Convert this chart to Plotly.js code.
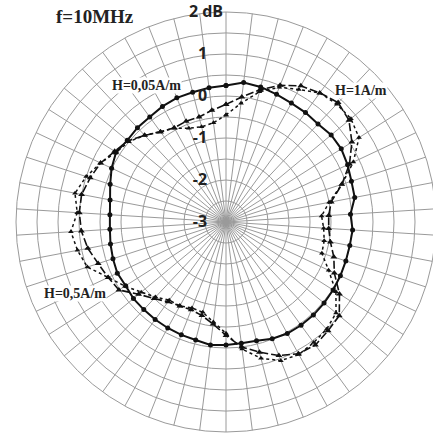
<!DOCTYPE html>
<html>
<head>
<meta charset="utf-8">
<script src="https://cdn.plot.ly/plotly-3.0.1.min.js"></script>
<style>html,body{margin:0;padding:0;background:#fff;overflow:hidden;}#chart{width:436px;height:434px;}</style>
</head>
<body>
<div id="chart"></div>
<script>
// angles (degrees, clockwise from top), 50 measurement directions
var angles = [0,7.2,14.4,21.6,28.8,36,43.2,50.4,57.6,64.8,72,79.2,86.4,93.6,100.8,108,115.2,122.4,129.6,136.8,
  144,151.2,158.4,165.6,172.8,180,187.2,194.4,201.6,208.8,216,223.2,230.4,237.6,244.8,252,259.2,266.4,273.6,280.8,
  288,295.2,302.4,309.6,316.8,324,331.2,338.4,345.6,352.8];

// H = 0,05 A/m (solid, circles)
var h005 = [0.25,0.35,0.32,0.27,0.23,0.22,0.2,0.25,0.25,0.2,0.14,0.12,-0.03,0.02,0.0,0.0,0.01,0.02,0.03,0.04,
  0.04,0.03,-0.01,-0.08,-0.09,-0.07,-0.05,-0.1,-0.11,-0.12,-0.13,-0.14,-0.14,-0.17,-0.14,-0.17,-0.2,-0.23,-0.23,-0.19,
  -0.1,0.01,0.1,0.05,0.08,0.09,0.14,0.18,0.19,0.22];

// H = 1 A/m (long dash, triangles)
var h1 = [-0.2,0.0,0.25,0.5,0.7,0.8,0.9,0.8,0.55,0.25,-0.1,-0.45,-0.55,-0.55,-0.47,-0.3,-0.15,0.2,0.5,0.55,
  0.62,0.58,0.42,0.2,0.0,-0.3,-0.55,-0.7,-0.75,-0.72,-0.65,-0.5,-0.3,0.02,0.1,0.2,0.35,0.45,0.5,0.5,
  0.4,0.3,0.14,0.03,-0.17,-0.35,-0.44,-0.42,-0.42,-0.32];

// H = 0,5 A/m (dotted, triangles)
var h05 = [-0.45,-0.15,0.2,0.45,0.6,0.8,0.85,0.86,0.75,0.35,-0.1,-0.5,-0.72,-0.67,-0.62,-0.6,-0.3,0.1,0.4,0.5,
  0.55,0.6,0.55,0.35,0.05,-0.35,-0.6,-0.78,-0.8,-0.72,-0.7,-0.55,-0.38,-0.15,0.1,0.47,0.6,0.7,0.55,0.66,
  0.5,0.3,0.1,0.0,-0.17,-0.34,-0.45,-0.6,-0.66,-0.62];

var radialTicks = [-3,-2.5,-2,-1.5,-1,-0.5,0,0.5,1,1.5,2];
var radialText = ['-3\u2003','','-2\u2003','','-1\u2003','','0\u2003','','1\u2003','','2 dB'];
var angTicks = angles;

function closeArr(a){ return a.concat([a[0]]); }

var traces = [
  {type:'scatterpolar', mode:'lines+markers', r:closeArr(h1), theta:closeArr(angles),
   line:{color:'#111', width:1.6, dash:'8px,3px'}, marker:{symbol:'triangle-up', size:6, color:'#111'}, name:'H=1A/m'},
  {type:'scatterpolar', mode:'lines+markers', r:closeArr(h05), theta:closeArr(angles),
   line:{color:'#111', width:1.5, dash:'3px,3px'}, marker:{symbol:'triangle-up', size:5, color:'#111'}, name:'H=0,5A/m'},
  {type:'scatterpolar', mode:'lines+markers', r:closeArr(h005), theta:closeArr(angles),
   line:{color:'#111', width:2}, marker:{symbol:'circle', size:5, color:'#111'}, name:'H=0,05A/m'}
];

var W = 436, H = 434, ML = 16, MR = 0, MT = 12, MB = 2;
var layout = {
  width:W, height:H,
  margin:{l:ML, r:MR, t:MT, b:MB},
  paper_bgcolor:'#fff',
  showlegend:false,
  polar:{
    bgcolor:'#fff',
    radialaxis:{range:[-3,2], tickvals:radialTicks, ticktext:radialText, angle:90, tickangle:90,
      side:'counterclockwise', showline:false, ticks:'', gridcolor:'#9a9a9a', gridwidth:1,
      tickfont:{family:'Open Sans, Arial, sans-serif', size:16, color:'#222', weight:'bold'}},
    angularaxis:{rotation:90, direction:'clockwise', tickvals:angTicks, showticklabels:false, ticks:'',
      gridcolor:'#9a9a9a', gridwidth:1, linecolor:'#9a9a9a', linewidth:1, showline:true}
  },
  annotations:[
    {text:'<b>f=10MHz</b>'},
    {text:'<b>H=0,05A/m</b>', bgcolor:'#fff'},
    {text:'<b>H=1A/m</b>', bgcolor:'#fff'},
    {text:'<b>H=0,5A/m</b>', bgcolor:'#fff'}
  ]
};
function px(x,y){ var w=W-ML-MR, h=H-MT-MB; return {x:(x-ML)/w, y:1-(y-MT)/h}; }
var pos = [[95,17,19],[146,85,14],[361,90,14],[75,293,14]];
for (var i=0;i<4;i++){
  var p = px(pos[i][0], pos[i][1]);
  var a = layout.annotations[i];
  a.x = p.x; a.y = p.y; a.xref='paper'; a.yref='paper'; a.showarrow=false;
  a.xanchor='center'; a.yanchor='middle'; a.borderpad = 0;
  a.font = {family:'Liberation Serif, Times New Roman, serif', size:pos[i][2], color:'#222'};
}
Plotly.newPlot('chart', traces, layout, {displayModeBar:false, staticPlot:true});
</script>
</body>
</html>
